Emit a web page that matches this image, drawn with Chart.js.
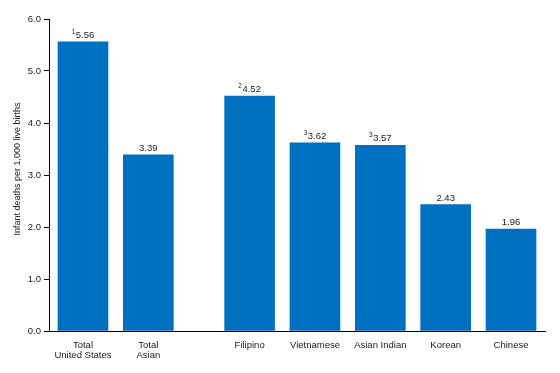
<!DOCTYPE html>
<html>
<head>
<meta charset="utf-8">
<script src="https://cdn.jsdelivr.net/npm/chart.js@4/dist/chart.umd.min.js"></script>
<style>
html,body{margin:0;padding:0;background:#fff;}
#wrap{width:560px;height:373px;position:relative;}
</style>
</head>
<body>
<div id="wrap"><canvas id="c" width="560" height="373"></canvas></div>
<script>
// ---- data ----
const categories = [["Total","United States"],["Total","Asian"],"Filipino","Vietnamese","Asian Indian","Korean","Chinese"];
const rates = [5.56, 3.39, 4.52, 3.62, 3.57, 2.43, 1.96];
const footnotes = ["1", "", "2", "3", "3", "", ""];
const yTicks = [0, 1, 2, 3, 4, 5, 6];
const yTitle = 'Infant deaths per 1,000 live births';
const groupBreakAfter = 1; // gap between totals and subgroups

// ---- layout helpers (not data) ----
const GAP = 0.55;
const xPos = categories.map((_, i) => i + (i > groupBreakAfter ? GAP : 0));
const points = rates.map((v, i) => ({x: xPos[i], y: v}));

const FONT = "'Liberation Sans', Arial, sans-serif";

const labelPlugin = {
  id: 'valueLabels',
  afterDatasetsDraw(chart) {
    const ctx = chart.ctx;
    const meta = chart.getDatasetMeta(0);
    ctx.save();
    ctx.fillStyle = '#222';
    ctx.textBaseline = 'alphabetic';
    meta.data.forEach((bar, i) => {
      const txt = rates[i].toFixed(2);
      const sup = footnotes[i];
      ctx.font = "9.5px " + FONT;
      const w = ctx.measureText(txt).width;
      ctx.font = "6.5px " + FONT;
      const sw = sup ? ctx.measureText(sup).width + 0.5 : 0;
      const total = w + sw;
      const left = bar.x - total / 2;
      const base = bar.y - 4;
      if (sup) {
        ctx.font = "6.5px " + FONT;
        ctx.textAlign = 'left';
        ctx.fillText(sup, left, base - 4);
      }
      ctx.font = "9.5px " + FONT;
      ctx.textAlign = 'left';
      ctx.fillText(txt, left + sw, base);
    });
    // y-axis title
    const ca = chart.chartArea;
    ctx.translate(18, (ca.top + ca.bottom) / 2 - 6);
    ctx.rotate(-Math.PI / 2);
    ctx.font = "9px " + FONT;
    ctx.textAlign = 'center';
    ctx.textBaseline = 'middle';
    ctx.fillText(yTitle, 0, 0);
    ctx.restore();
  }
};

new Chart(document.getElementById('c'), {
  type: 'bar',
  data: {
    datasets: [{
      data: points,
      backgroundColor: '#0070C0',
      borderWidth: 0,
      barThickness: 50
    }]
  },
  options: {
    responsive: false,
    animation: false,
    events: [],
    layout: {padding: {top: 19, right: 15, left: 0, bottom: 0}},
    plugins: {legend: {display: false}, tooltip: {enabled: false}},
    scales: {
      x: {
        type: 'linear',
        offset: false,
        min: -0.52,
        max: xPos[xPos.length - 1] + 0.52,
        afterBuildTicks(axis) { axis.ticks = xPos.map(v => ({value: v})); },
        afterFit(axis) { axis.height = 42; },
        grid: {display: false},
        border: {color: '#000', width: 1},
        ticks: {
          autoSkip: false,
          maxRotation: 0,
          padding: 1,
          color: '#222',
          font: {family: FONT, size: 9.5, lineHeight: 1.1},
          callback(value) {
            const i = xPos.findIndex(p => Math.abs(p - value) < 1e-6);
            return i >= 0 ? categories[i] : '';
          }
        }
      },
      y: {
        min: 0,
        max: 6,
        afterBuildTicks(axis) { axis.ticks = yTicks.map(v => ({value: v})); },
        afterFit(axis) { axis.width = 49; },
        grid: {drawOnChartArea: false, drawTicks: true, tickLength: 5, color: '#000'},
        border: {color: '#000', width: 1},
        ticks: {
          padding: 3,
          color: '#222',
          font: {family: FONT, size: 9.5},
          callback(v) { return v.toFixed(1); }
        },
        title: {display: false}
      }
    }
  },
  plugins: [labelPlugin]
});
</script>
</body>
</html>
